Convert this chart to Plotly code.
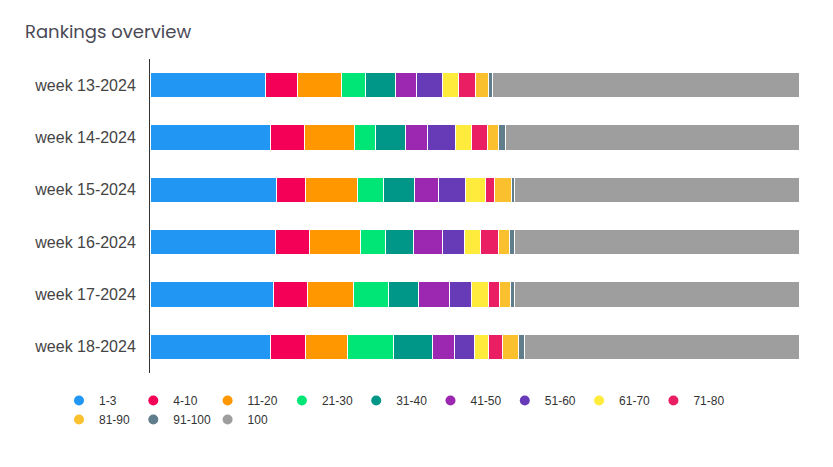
import plotly.graph_objects as go

weeks = ['week 13-2024', 'week 14-2024', 'week 15-2024',
         'week 16-2024', 'week 17-2024', 'week 18-2024']

ranges = ['1-3', '4-10', '11-20', '21-30', '31-40', '41-50',
          '51-60', '61-70', '71-80', '81-90', '91-100', '100']

colors = ['#2196F3', '#F50057', '#FF9800', '#00E676', '#009688', '#9C27B0',
          '#673AB7', '#FFEB3B', '#E91E63', '#FBC02D', '#607D8B', '#9E9E9E']

# share of keywords per ranking bucket, one list per bucket (weeks 13..18)
r_1_3 = [17.8, 18.6, 19.5, 19.3, 19.0, 18.6]
r_4_10 = [4.9, 5.2, 4.5, 5.2, 5.2, 5.3]
r_11_20 = [6.8, 7.7, 7.9, 7.9, 7.1, 6.5]
r_21_30 = [3.7, 3.3, 4.1, 3.9, 5.4, 7.1]
r_31_40 = [4.6, 4.6, 4.7, 4.3, 4.6, 6.0]
r_41_50 = [3.2, 3.4, 3.7, 4.5, 4.9, 3.4]
r_51_60 = [4.0, 4.3, 4.2, 3.3, 3.4, 3.1]
r_61_70 = [2.5, 2.4, 3.1, 2.5, 2.5, 2.1]
r_71_80 = [2.7, 2.5, 1.4, 2.8, 1.8, 2.2]
r_81_90 = [1.9, 1.7, 2.6, 1.7, 1.6, 2.5]
r_91_100 = [0.6, 1.1, 0.4, 0.8, 0.7, 0.9]
r_100 = [47.3, 45.2, 43.9, 43.8, 43.8, 42.3]

series = [r_1_3, r_4_10, r_11_20, r_21_30, r_31_40, r_41_50,
          r_51_60, r_61_70, r_71_80, r_81_90, r_91_100, r_100]

W, H = 825, 459  # page body adds 8px around the figure
L, R, T, B = 142, 34, 51, 94
pw, ph = W - L - R, H - T - B

fig = go.Figure()

for name, vals, col in zip(ranges, series, colors):
    fig.add_trace(go.Bar(
        x=vals,
        y=weeks,
        orientation='h',
        name=name,
        marker=dict(color=col, line=dict(color='white', width=1)),
        showlegend=False,
        hoverinfo='x+name',
    ))

# round dots for the legend, 9 on the first row and the rest below
for i, (name, col) in enumerate(zip(ranges, colors)):
    fig.add_trace(go.Scatter(
        x=[None], y=[None],
        mode='markers',
        name=name,
        marker=dict(color=col, size=10, symbol='circle'),
        showlegend=True,
        legend='legend' if i < 9 else 'legend2',
    ))

leg_style = dict(
    orientation='h',
    traceorder='normal',
    xref='paper', yref='paper',
    x=(51 - L) / pw, xanchor='left',
    yanchor='top',
    entrywidth=29.3, entrywidthmode='pixels',
    font=dict(size=12, color='#333333', family='Liberation Sans, Arial, sans-serif'),
    tracegroupgap=0,
    itemclick=False,
    bgcolor='rgba(0,0,0,0)',
)

fig.update_layout(
    barmode='stack',
    bargap=0.52,
    width=W,
    height=H,
    plot_bgcolor='white',
    paper_bgcolor='white',
    margin=dict(l=L, r=R, t=T, b=B),
    title=dict(
        text='Rankings overview',
        x=17 / W, xanchor='left',
        y=1 - 24 / H, yanchor='middle',
        font=dict(family='Poppins, Open Sans, sans-serif', size=18, color='#4a4a55'),
    ),
    font=dict(family='Liberation Sans, Arial, sans-serif', color='#333333'),
    legend=dict(leg_style, y=(ph - (378 - T)) / ph),
    legend2=dict(leg_style, y=(ph - (397 - T)) / ph),
)

fig.update_xaxes(
    range=[0, 100],
    showgrid=False,
    showticklabels=False,
    zeroline=False,
    showline=False,
)
fig.update_yaxes(
    autorange='reversed',
    showgrid=False,
    showline=True,
    linecolor='#333333',
    linewidth=1,
    ticks='',
    ticklabelstandoff=10,
    tickfont=dict(size=16, color='#444444'),
)

fig.write_html("out.html")
